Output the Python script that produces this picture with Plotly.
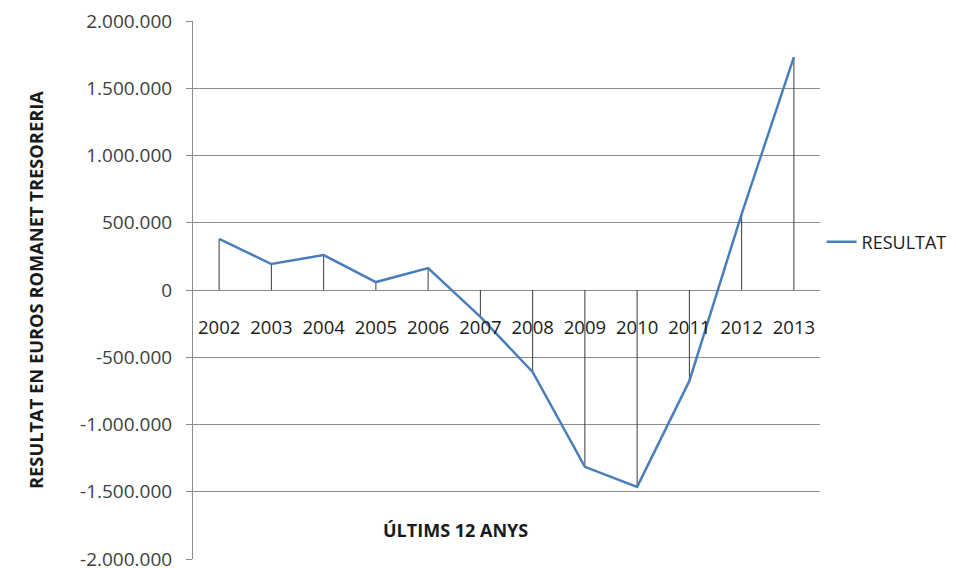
import plotly.graph_objects as go

years = ["2002", "2003", "2004", "2005", "2006", "2007", "2008", "2009", "2010", "2011", "2012", "2013"]
resultat = [380000, 193000, 260000, 59000, 163000, -200000, -609000, -1315000, -1464000, -676000, 565000, 1731000]
y_tickvals = [2000000, 1500000, 1000000, 500000, 0, -500000, -1000000, -1500000, -2000000]
y_ticktext = ["2.000.000", "1.500.000", "1.000.000", "500.000", "0", "-500.000", "-1.000.000", "-1.500.000", "-2.000.000"]

FONT = "Open Sans"
TXT = "#404040"

# drop lines from each point to zero
drop_x, drop_y = [], []
for yr, v in zip(years, resultat):
    drop_x += [yr, yr, None]
    drop_y += [v, 0, None]

fig = go.Figure()
fig.add_trace(go.Scatter(x=drop_x, y=drop_y, mode="lines",
                         line=dict(color="#3a3a3a", width=1),
                         showlegend=False, hoverinfo="skip"))
fig.add_trace(go.Scatter(x=years, y=resultat, mode="lines", name="RESULTAT",
                         line=dict(color="#4A7EBB", width=2.5)))

fig.update_layout(
    width=956, height=568,
    margin=dict(l=185, r=144, t=13, b=17),
    paper_bgcolor="white", plot_bgcolor="white",
    font=dict(family=FONT, size=18, color=TXT),
    xaxis=dict(type="category", categoryorder="array", categoryarray=years,
               range=[-0.5, 11.5], anchor="free", position=0.5,
               showline=False, showgrid=False, ticks="", zeroline=False,
               automargin=False, ticklabeloverflow="allow",
               ticklabelstandoff=24, tickfont=dict(size=18.5, color="#1a1a1a")),
    yaxis=dict(range=[-2000000, 2000000], tickvals=y_tickvals, ticktext=y_ticktext,
               showgrid=True, gridcolor="#8c8c8c", gridwidth=1,
               zeroline=True, zerolinecolor="#8c8c8c", zerolinewidth=1,
               showline=True, linecolor="#8c8c8c", linewidth=1,
               ticks="outside", ticklen=6, tickcolor="#8c8c8c", automargin=False,
               ticklabelstandoff=10, ticklabeloverflow="allow",
               tickfont=dict(size=19, color=TXT)),
    legend=dict(xref="container", yref="container", x=0.851, y=0.588,
                xanchor="left", yanchor="middle",
                font=dict(size=18, color="#1a1a1a"), bgcolor="rgba(0,0,0,0)",
                itemwidth=30),
    annotations=[
        dict(text="<b>RESULTAT EN EUROS ROMANET TRESORERIA</b>", textangle=-90,
             xref="paper", yref="paper", x=-0.252, y=0.5, showarrow=False,
             font=dict(size=18.3, color="#1a1a1a"), xanchor="center", yanchor="middle"),
        dict(text="<b>ÚLTIMS 12 ANYS</b>", xref="paper", yref="paper",
             x=0.418, y=0.054, showarrow=False,
             font=dict(size=18, color="#1a1a1a"), xanchor="center", yanchor="middle"),
    ],
)

fig.write_html("out.html")
